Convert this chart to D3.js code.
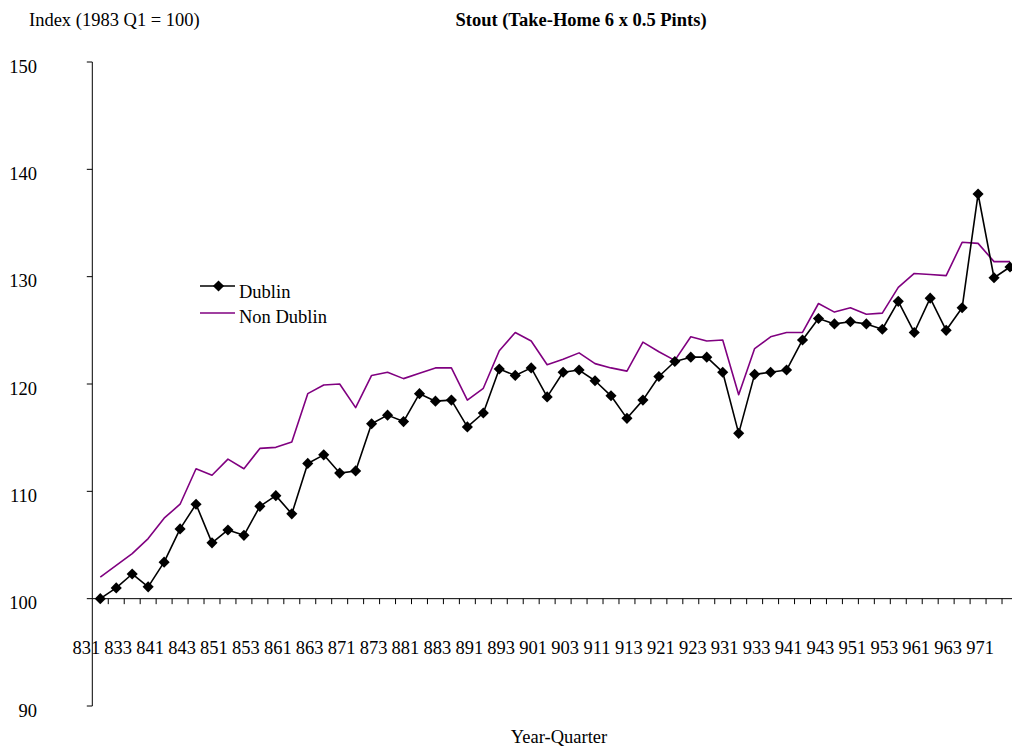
<!DOCTYPE html>
<html>
<head>
<meta charset="utf-8">
<script src="https://cdn.jsdelivr.net/npm/d3@7"></script>
<style>
  html, body { margin: 0; padding: 0; background: #fff; }
  svg { display: block; font-family: "Liberation Serif", "Times New Roman", serif; }
</style>
</head>
<body>
<svg id="chart" width="1012" height="749"></svg>
<script>
// Year-quarter codes (YYQ), 1983 Q1 to 1997 Q2
const quarters = [
  "831","832","833","834","841","842","843","844","851","852","853","854",
  "861","862","863","864","871","872","873","874","881","882","883","884",
  "891","892","893","894","901","902","903","904","911","912","913","914",
  "921","922","923","924","931","932","933","934","941","942","943","944",
  "951","952","953","954","961","962","963","964","971","972"
];

// Price index, 1983 Q1 = 100
const dublin = [
  100.0, 101.0, 102.3, 101.1, 103.4, 106.5, 108.8, 105.2, 106.4, 105.9, 108.6, 109.6,
  107.9, 112.6, 113.4, 111.7, 111.9, 116.3, 117.1, 116.5, 119.1, 118.4, 118.5, 116.0,
  117.3, 121.4, 120.8, 121.5, 118.8, 121.1, 121.3, 120.3, 118.9, 116.8, 118.5, 120.7,
  122.1, 122.5, 122.5, 121.1, 115.4, 120.9, 121.1, 121.3, 124.1, 126.1, 125.6, 125.8,
  125.6, 125.1, 127.7, 124.8, 128.0, 125.0, 127.1, 137.7, 129.9, 130.9
];
const nonDublin = [
  102.0, 103.1, 104.2, 105.6, 107.5, 108.8, 112.1, 111.5, 113.0, 112.1, 114.0, 114.1,
  114.6, 119.1, 119.9, 120.0, 117.8, 120.8, 121.1, 120.5, 121.0, 121.5, 121.5, 118.5,
  119.6, 123.1, 124.8, 124.0, 121.8, 122.3, 122.9, 121.9, 121.5, 121.2, 123.9, 123.0,
  122.2, 124.4, 124.0, 124.1, 119.0, 123.3, 124.4, 124.8, 124.8, 127.5, 126.7, 127.1,
  126.5, 126.6, 129.0, 130.3, 130.2, 130.1, 133.2, 133.1, 131.4, 131.4
];

const yTicks = [90, 100, 110, 120, 130, 140, 150];
// every second quarter is labelled
const xLabels = quarters.filter((d, i) => i % 2 === 0);

const series = [
  { name: "Dublin", values: dublin, color: "#000000", marker: true },
  { name: "Non Dublin", values: nonDublin, color: "#800080", marker: false }
];

const fontSize = 18.5;
const svg = d3.select("#chart");
const left = 92.3, bandW = 15.96;

const x = d3.scaleBand()
  .domain(quarters)
  .range([left, left + bandW * quarters.length])
  .paddingInner(0).paddingOuter(0);

const y = d3.scaleLinear().domain([90, 150]).range([706, 62]);

const cx = d => x(d) + x.bandwidth() / 2;

// Y axis: line with ticks pointing left
const yAxis = svg.append("g");
yAxis.append("line")
  .attr("x1", left).attr("x2", left)
  .attr("y1", y(90)).attr("y2", y(150))
  .attr("stroke", "#000").attr("stroke-width", 1);
yAxis.selectAll("line.tick").data(yTicks).join("line")
  .attr("class", "tick")
  .attr("x1", left - 5.5).attr("x2", left)
  .attr("y1", d => y(d)).attr("y2", d => y(d))
  .attr("stroke", "#000").attr("stroke-width", 1);
yAxis.selectAll("text").data(yTicks).join("text")
  .attr("x", 37).attr("y", d => y(d) + 10.5)
  .attr("text-anchor", "end")
  .attr("font-size", fontSize)
  .text(d => d);

// X axis drawn at the 100 base line, ticks on quarter boundaries
const xAxis = svg.append("g");
const x0 = y(100);
xAxis.append("line")
  .attr("x1", left).attr("x2", x.range()[1])
  .attr("y1", x0).attr("y2", x0)
  .attr("stroke", "#000").attr("stroke-width", 1);
xAxis.selectAll("line.tick").data(quarters.slice(1)).join("line")
  .attr("class", "tick")
  .attr("x1", d => x(d)).attr("x2", d => x(d))
  .attr("y1", x0).attr("y2", x0 + 5.5)
  .attr("stroke", "#000").attr("stroke-width", 1);
xAxis.selectAll("text").data(xLabels).join("text")
  .attr("x", d => cx(d) - 14)
  .attr("y", 654)
  .attr("text-anchor", "middle")
  .attr("font-size", fontSize)
  .text(d => d);

// Series lines
const line = d3.line()
  .x((d, i) => cx(quarters[i]))
  .y(d => y(d));

const diamond = d3.symbol().type(d3.symbolSquare).size(62);

series.slice().reverse().forEach(s => {
  svg.append("path")
    .datum(s.values)
    .attr("d", line)
    .attr("fill", "none")
    .attr("stroke", s.color)
    .attr("stroke-width", 1.6)
    .attr("stroke-linejoin", "round");
});

svg.append("g").selectAll("path").data(dublin).join("path")
  .attr("d", diamond)
  .attr("transform", (d, i) => `translate(${cx(quarters[i])},${y(d)}) rotate(45)`)
  .attr("fill", "#000");

// Legend
const legend = svg.append("g");
const legendRows = [
  { s: series[0], ly: 286, ty: 297.5 },
  { s: series[1], ly: 313, ty: 323 }
];
legendRows.forEach(r => {
  legend.append("line")
    .attr("x1", 200).attr("x2", 235)
    .attr("y1", r.ly).attr("y2", r.ly)
    .attr("stroke", r.s.color).attr("stroke-width", 1.6);
  if (r.s.marker) {
    legend.append("path")
      .attr("d", diamond)
      .attr("transform", `translate(218.5,${r.ly}) rotate(45)`)
      .attr("fill", "#000");
  }
  legend.append("text")
    .attr("x", 239).attr("y", r.ty)
    .attr("font-size", fontSize)
    .text(r.s.name);
});

// Titles
svg.append("text")
  .attr("x", 29).attr("y", 26)
  .attr("font-size", fontSize)
  .text("Index (1983 Q1 = 100)");

svg.append("text")
  .attr("x", 581).attr("y", 26)
  .attr("text-anchor", "middle")
  .attr("font-size", fontSize)
  .attr("font-weight", "bold")
  .text("Stout (Take-Home 6 x 0.5 Pints)");

svg.append("text")
  .attr("x", 559).attr("y", 743)
  .attr("text-anchor", "middle")
  .attr("font-size", fontSize)
  .text("Year-Quarter");
</script>
</body>
</html>
